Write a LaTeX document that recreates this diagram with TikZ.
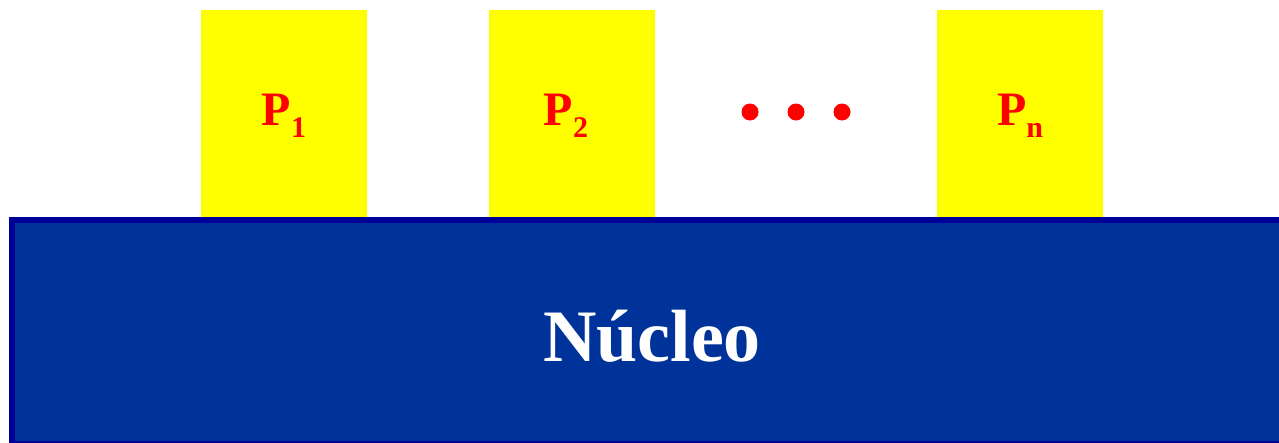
\documentclass[tikz,border=0pt]{standalone}
\usepackage{fontspec}
\setmainfont{Liberation Serif}
\definecolor{procyellow}{HTML}{FFFF00}
\definecolor{procred}{HTML}{FF0000}
\definecolor{kernfill}{HTML}{003399}
\definecolor{kernline}{HTML}{000099}
\begin{document}
\begin{tikzpicture}[x=1pt,y=-1pt,
  procbox/.style={fill=procyellow, draw=none, minimum width=166pt, minimum height=210pt, inner sep=0pt, anchor=north west},
  proclabel/.style={text=procred, font=\fontsize{48}{48}\selectfont\bfseries, anchor=base, inner sep=0pt},
  dotmark/.style={circle, fill=procred, minimum size=17pt, inner sep=0pt},
  kernlabel/.style={text=white, font=\fontsize{74}{74}\selectfont\bfseries, anchor=base, inner sep=0pt}]
\useasboundingbox (0,0) rectangle (1279,442);
\clip (0,0) rectangle (1279,442);
\node[procbox] (b1) at (201,10) {};
\node[procbox] (b2) at (489,10) {};
\node[procbox] (bn) at (937,10) {};
\node[proclabel] (p1) at (284,125) {P\raisebox{-12pt}{\fontsize{30}{30}\selectfont 1}};
\node[proclabel] (p2) at (566,125) {P\raisebox{-12pt}{\fontsize{30}{30}\selectfont 2}};
\node[proclabel] (pn) at (1020,125) {P\raisebox{-12pt}{\fontsize{30}{30}\selectfont n}};
\node[dotmark] (d1) at (750,112) {};
\node[dotmark] (d2) at (796,112) {};
\node[dotmark] (d3) at (842,112) {};
\draw[fill=kernfill, draw=kernline, line width=6pt] (12,220) rectangle (1300,444);
\node[kernlabel] (nucleo) at (652,361) {Núcleo};
\end{tikzpicture}
\end{document}
